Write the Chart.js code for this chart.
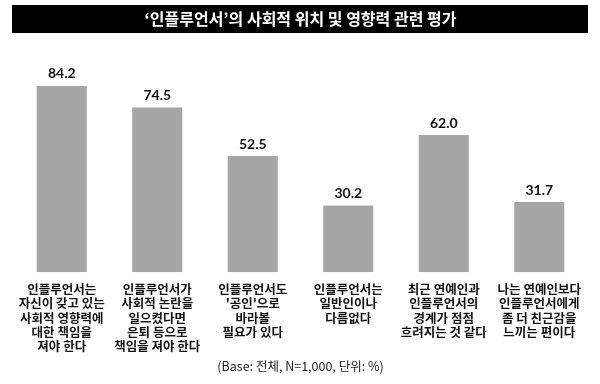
<!DOCTYPE html>
<html>
<head>
<meta charset="utf-8">
<script src="https://cdn.jsdelivr.net/npm/chart.js@4"></script>
<style>
  html, body { margin: 0; padding: 0; background: #fff; }
  #wrap { width: 600px; height: 384px; }
</style>
</head>
<body>
<div id="wrap"><canvas id="c" width="600" height="384"></canvas></div>
<script>
const categories = [
  ["인플루언서는", "자신이 갖고 있는", "사회적 영향력에", "대한 책임을", "져야 한다"],
  ["인플루언서가", "사회적 논란을", "일으켰다면", "은퇴 등으로", "책임을 져야 한다"],
  ["인플루언서도", "'공인'으로", "바라볼", "필요가 있다"],
  ["인플루언서는", "일반인이나", "다름없다"],
  ["최근 연예인과", "인플루언서의", "경계가 점점", "흐려지는 것 같다"],
  ["나는 연예인보다", "인플루언서에게", "좀 더 친근감을", "느끼는 편이다"]
];
const values = [84.2, 74.5, 52.5, 30.2, 62.0, 31.7];
const titleText = "‘인플루언서’의 사회적 위치 및 영향력 관련 평가";
const footerText = "(Base: 전체, N=1,000, 단위: %)";

const KR = "'Noto Sans CJK KR', 'Noto Sans', sans-serif";

const titleBg = {
  id: 'titleBg',
  beforeDraw(chart) {
    const ctx = chart.ctx;
    ctx.save();
    ctx.fillStyle = '#000';
    ctx.fillRect(12, 5, 576, 28);
    ctx.restore();
  }
};

const valueLabels = {
  id: 'valueLabels',
  afterDatasetsDraw(chart) {
    const ctx = chart.ctx;
    const meta = chart.getDatasetMeta(0);
    ctx.save();
    ctx.font = "bold 14px Lato, 'Noto Sans', sans-serif";
    ctx.fillStyle = '#111';
    ctx.textAlign = 'center';
    ctx.textBaseline = 'middle';
    meta.data.forEach((bar, i) => {
      ctx.fillText(values[i].toFixed(1), bar.x, bar.y - 12);
    });
    ctx.restore();
  }
};

new Chart(document.getElementById('c'), {
  type: 'bar',
  data: {
    labels: categories,
    datasets: [{
      data: values,
      backgroundColor: '#a6a6a6',
      borderWidth: 0,
      barPercentage: 0.524,
      categoryPercentage: 1.0
    }]
  },
  options: {
    responsive: false,
    animation: false,
    devicePixelRatio: 1,
    layout: { padding: { left: 14, right: 13, top: 0, bottom: 0 } },
    plugins: {
      legend: { display: false },
      tooltip: { enabled: false },
      title: {
        display: true,
        text: titleText,
        color: '#fff',
        font: { family: KR, size: 16, weight: 'bold', lineHeight: 1.2 },
        padding: { top: 9, bottom: 22.8 }
      },
      subtitle: {
        display: true,
        position: 'bottom',
        text: footerText,
        color: '#222',
        font: { family: KR, size: 12.5, weight: 'normal', lineHeight: 1.2 },
        padding: { top: 3, bottom: 10.5 }
      }
    },
    scales: {
      x: {
        grid: { display: false },
        border: { display: false },
        ticks: {
          color: '#111',
          font: { family: KR, size: 12.5, weight: 'bold', lineHeight: 1.14 },
          padding: 2,
          maxRotation: 0,
          minRotation: 0,
          autoSkip: false
        }
      },
      y: {
        display: false,
        min: 0,
        max: 100
      }
    }
  },
  plugins: [titleBg, valueLabels]
});
</script>
</body>
</html>
